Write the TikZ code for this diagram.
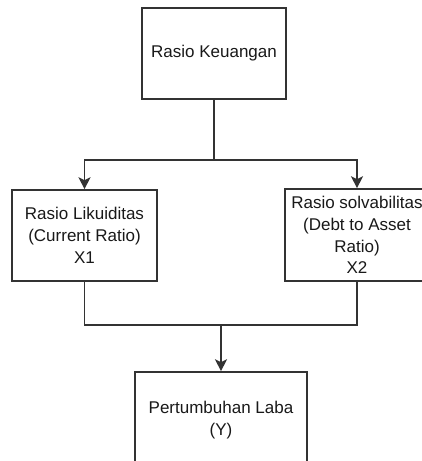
\documentclass[tikz,border=0pt]{standalone}
\usepackage{fontspec}
\setmainfont{Liberation Sans}
\usetikzlibrary{arrows.meta}
\begin{document}
\begin{tikzpicture}[x=1pt,y=-1pt,
  box/.style={draw=black!80, line width=1.6pt, fill=white, align=center, inner sep=0pt,
    font=\fontsize{17}{21.8}\selectfont, text=black!90},
  link/.style={draw=black!80, line width=1.6pt},
  arr/.style={link, -{Stealth[length=12pt,width=12pt,inset=3pt]}}]
\useasboundingbox (0,0) rectangle (422,461);
\clip (0,0) rectangle (422,461);
\fill[white] (0,0) rectangle (422,461);
\node[box, minimum width=144pt, minimum height=91pt] (top) at (214,53.5) {Rasio Keuangan};
\node[box, minimum width=145pt, minimum height=91pt] (left) at (84.5,235.5) {Rasio Likuiditas\\(Current Ratio)\\X1};
\node[box, minimum width=144pt, minimum height=92pt] (right) at (357,235) {Rasio solvabilitas\\(Debt to Asset\\Ratio)\\X2};
\node[box, minimum width=172pt, minimum height=96pt] (bottom) at (221,420) {Pertumbuhan Laba\\(Y)};
\coordinate (j1) at (214,160);
\coordinate (j2) at (221,325);
\draw[link] (top.south) -- (j1);
\draw[arr] (j1) -| (left.north);
\draw[arr] (j1) -| (right.north);
\draw[link] (left.south) |- (j2) -| (right.south);
\draw[arr] (j2) -- (bottom.north);
\end{tikzpicture}
\end{document}
